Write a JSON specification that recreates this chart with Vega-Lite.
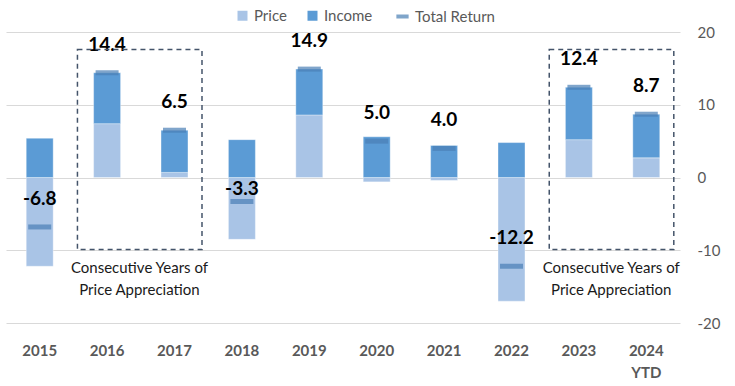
{
  "$schema": "https://vega.github.io/schema/vega-lite/v6.json",
  "width": 674,
  "height": 291,
  "autosize": {"type": "none"},
  "padding": {"left": 6, "top": 32, "right": 55, "bottom": 63},
  "background": "white",
  "config": {
    "font": "Lato",
    "view": {"stroke": null},
    "locale": {
      "number": {"decimal": ".", "thousands": ",", "grouping": [3], "currency": ["$", ""], "minus": "-"}
    }
  },
  "datasets": {
    "returns": [
      {"year": "2015", "Price": -12.2, "Income": 5.4, "total": -6.8},
      {"year": "2016", "Price": 7.4, "Income": 7.0, "total": 14.4},
      {"year": "2017", "Price": 0.7, "Income": 5.8, "total": 6.5},
      {"year": "2018", "Price": -8.5, "Income": 5.2, "total": -3.3},
      {"year": "2019", "Price": 8.6, "Income": 6.3, "total": 14.9},
      {"year": "2020", "Price": -0.6, "Income": 5.6, "total": 5.0},
      {"year": "2021", "Price": -0.4, "Income": 4.4, "total": 4.0},
      {"year": "2022", "Price": -17.0, "Income": 4.8, "total": -12.2},
      {"year": "2023", "Price": 5.2, "Income": 7.2, "total": 12.4},
      {"year": "2024 YTD", "Price": 2.7, "Income": 6.0, "total": 8.7}
    ],
    "boxes": [
      {"start": "2016", "end": "2017"},
      {"start": "2023", "end": "2024 YTD"}
    ]
  },
  "layer": [
    {
      "data": {"name": "returns"},
      "transform": [{"fold": ["Price", "Income"], "as": ["component", "value"]}],
      "mark": {"type": "bar", "stroke": "white", "strokeWidth": 0.6, "strokeOpacity": 0.6},
      "encoding": {
        "x": {
          "field": "year", "type": "nominal", "sort": null,
          "scale": {"paddingInner": 0.6, "paddingOuter": 0.3},
          "axis": {
            "title": null, "labelAngle": 0, "domain": false, "ticks": false, "grid": false,
            "labelFontSize": 15, "labelFontWeight": "bold", "labelColor": "#595959",
            "labelPadding": 20, "labelLineHeight": 22,
            "labelExpr": "split(datum.value, ' ')"
          }
        },
        "y": {
          "field": "value", "type": "quantitative", "stack": "zero",
          "scale": {"domain": [-20, 20], "nice": false},
          "axis": {
            "orient": "right", "title": null, "values": [-20, -10, 0, 10, 20],
            "domain": false, "ticks": false, "grid": true, "gridColor": "#d9d9d9", "gridWidth": 1,
            "labelFontSize": 15, "labelColor": "#595959", "labelPadding": 17
          }
        },
        "color": {
          "field": "component", "type": "nominal",
          "scale": {"domain": ["Price", "Income"], "range": ["#a9c4e6", "#5b9bd5"]},
          "legend": {
            "orient": "none", "legendX": 229, "legendY": -24, "direction": "horizontal",
            "title": null, "symbolType": "square", "symbolSize": 100, "symbolStrokeWidth": 0,
            "labelFontSize": 15, "labelColor": "#595959", "columnPadding": 18, "labelOffset": 4
          }
        },
        "order": {"field": "component", "sort": "descending"}
      }
    },
    {
      "data": {"name": "returns"},
      "mark": {"type": "tick", "thickness": 5, "size": 23, "color": "#4a7fb5", "strokeWidth": 0},
      "encoding": {
        "x": {"field": "year", "type": "nominal", "sort": null},
        "y": {"field": "total", "type": "quantitative"},
        "stroke": {
          "datum": "Total Return",
          "scale": {"domain": ["Total Return"], "range": ["#4a7fb5"]},
          "legend": {
            "orient": "none", "legendX": 388, "legendY": -24, "direction": "horizontal",
            "title": null, "symbolType": "stroke", "symbolSize": 150, "symbolStrokeWidth": 4,
            "labelFontSize": 15, "labelColor": "#595959", "labelOffset": 4
          }
        }
      }
    },
    {
      "data": {"name": "returns"},
      "transform": [{"filter": "datum.year != '2018'"}],
      "mark": {"type": "text", "fontSize": 19, "fontWeight": "bold", "color": "#000000", "baseline": "middle", "dy": -28},
      "encoding": {
        "x": {"field": "year", "type": "nominal", "sort": null},
        "y": {"field": "total", "type": "quantitative"},
        "text": {"field": "total", "type": "quantitative", "format": ".1f"}
      }
    },
    {
      "data": {"name": "returns"},
      "transform": [{"filter": "datum.year == '2018'"}],
      "mark": {"type": "text", "fontSize": 19, "fontWeight": "bold", "color": "#000000", "baseline": "middle", "dy": -13},
      "encoding": {
        "x": {"field": "year", "type": "nominal", "sort": null},
        "y": {"field": "total", "type": "quantitative"},
        "text": {"field": "total", "type": "quantitative", "format": ".1f"}
      }
    },
    {
      "data": {"name": "boxes"},
      "mark": {"type": "rect", "fill": null, "stroke": "#44546a", "strokeWidth": 1.5, "strokeDash": [5, 4]},
      "encoding": {
        "x": {"field": "start", "type": "nominal", "bandPosition": -0.6},
        "x2": {"field": "end", "bandPosition": 1.52},
        "y": {"datum": 17.6},
        "y2": {"datum": -9.9}
      }
    },
    {
      "data": {"name": "boxes"},
      "mark": {"type": "text", "fontSize": 15, "color": "#1a1a1a", "baseline": "middle", "lineHeight": 22},
      "encoding": {
        "x": {"field": "start", "type": "nominal", "bandPosition": 1.7},
        "y": {"datum": -12.4},
        "text": {"value": ["Consecutive Years of", "Price Appreciation"]}
      }
    }
  ]
}
